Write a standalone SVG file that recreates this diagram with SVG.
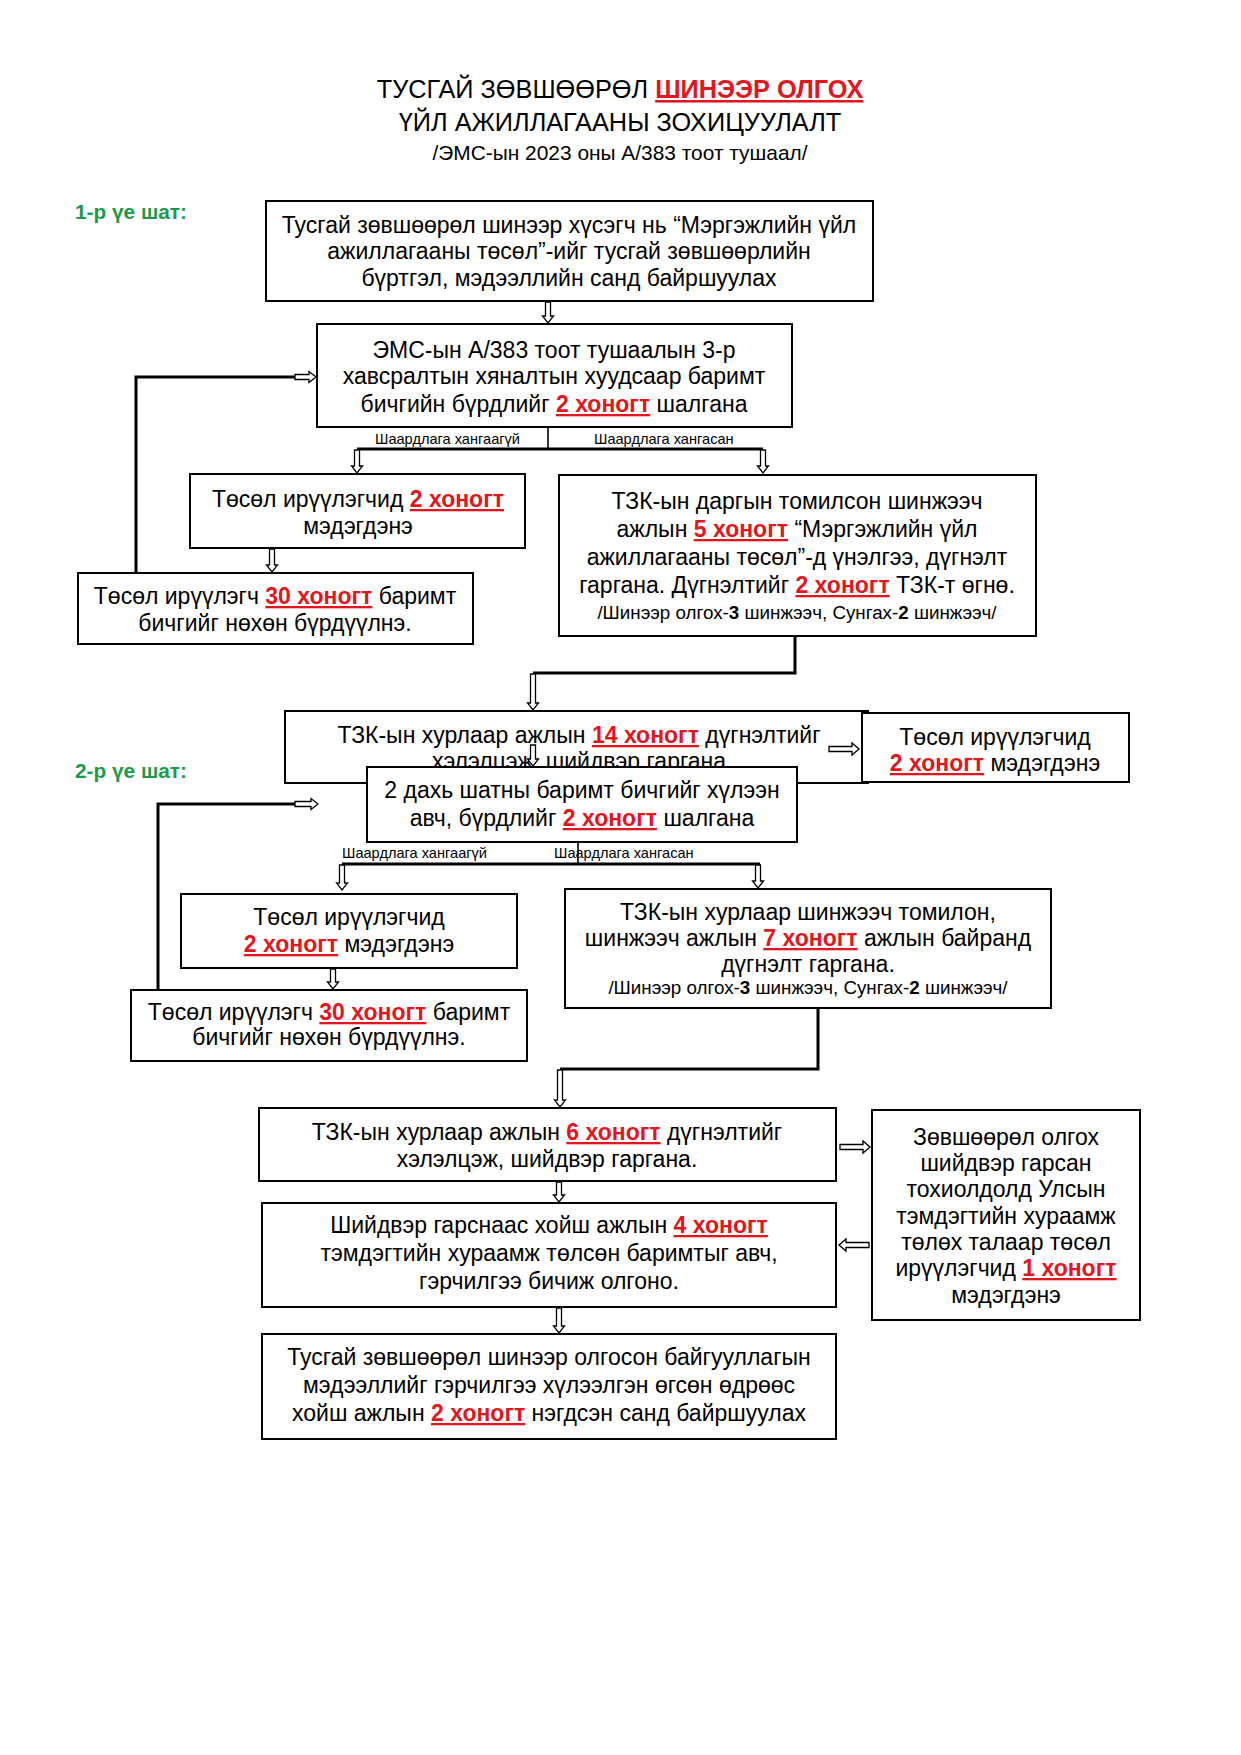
<svg xmlns="http://www.w3.org/2000/svg" width="1241" height="1755" viewBox="0 0 1241 1755">
<style>
text{font-family:"Liberation Sans",Arial,sans-serif;fill:#000}
.t{font-size:23px;text-anchor:middle}
.s{font-size:18.8px;text-anchor:middle}
.lab{font-size:14.6px}
.r{fill:#e2161c;font-weight:bold;text-decoration:underline}
.b{font-weight:bold}
.g{fill:#1c9a4c;font-size:20.8px;font-weight:bold}
.box{fill:#fff;stroke:#000;stroke-width:2}
.ln{fill:none;stroke:#000;stroke-width:3}
.ln2{fill:none;stroke:#000;stroke-width:1.6}
.ar{fill:#fff;stroke:#000;stroke-width:1.3}
</style>
<rect width="1241" height="1755" fill="#fff"/>
<g id="title">
<text x="620" y="98" style="font-size:25.3px;text-anchor:middle">ТУСГАЙ ЗӨВШӨӨРӨЛ <tspan class="r">ШИНЭЭР ОЛГОХ</tspan></text>
<text x="620" y="131" style="font-size:25.3px;text-anchor:middle">ҮЙЛ АЖИЛЛАГААНЫ ЗОХИЦУУЛАЛТ</text>
<text x="620" y="160" style="font-size:20.9px;text-anchor:middle">/ЭМС-ын 2023 оны А/383 тоот тушаал/</text>
</g>
<g id="stage1"><text x="75" y="219" class="g">1-р үе шат:</text></g>
<g id="stage2"><text x="75" y="778" class="g">2-р үе шат:</text></g>

<g id="connectors">
<path class="ln" d="M136 573V377H296"/>
<path class="ln" d="M158 990V804H296"/>
<path class="ln2" d="M548 427V449"/>
<path class="ln" d="M357 449H763"/>
<path class="ln2" d="M578 842V864"/>
<path class="ln" d="M342 864H760"/>
<path class="ln" d="M795 636V673H533"/>
<path class="ln" d="M818 1008V1069H560"/>
</g>

<g id="n1"><rect class="box" x="266" y="201" width="607" height="100"/>
<text class="t" x="569" y="233">Тусгай зөвшөөрөл шинээр хүсэгч нь “Мэргэжлийн үйл</text>
<text class="t" x="569" y="259">ажиллагааны төсөл”-ийг тусгай зөвшөөрлийн</text>
<text class="t" x="569" y="286">бүртгэл, мэдээллийн санд байршуулах</text></g>

<g id="n2"><rect class="box" x="317" y="324" width="475" height="103"/>
<text class="t" x="554" y="358">ЭМС-ын А/383 тоот тушаалын 3-р</text>
<text class="t" x="554" y="384">хавсралтын хяналтын хуудсаар баримт</text>
<text class="t" x="554" y="412">бичгийн бүрдлийг <tspan class="r">2 хоногт</tspan> шалгана</text></g>

<g id="lbl1"><text class="lab" x="375" y="444">Шаардлага хангаагүй</text><text class="lab" x="594" y="444">Шаардлага хангасан</text></g>

<g id="n3"><rect class="box" x="190" y="474" width="335" height="74"/>
<text class="t" x="358" y="507">Төсөл ирүүлэгчид <tspan class="r">2 хоногт</tspan></text>
<text class="t" x="358" y="534">мэдэгдэнэ</text></g>

<g id="n4"><rect class="box" x="78" y="573" width="395" height="71"/>
<text class="t" x="275" y="604">Төсөл ирүүлэгч <tspan class="r">30 хоногт</tspan> баримт</text>
<text class="t" x="275" y="631">бичгийг нөхөн бүрдүүлнэ.</text></g>

<g id="n5"><rect class="box" x="559" y="475" width="477" height="161"/>
<text class="t" x="797" y="509">ТЗК-ын даргын томилсон шинжээч</text>
<text class="t" x="797" y="537">ажлын <tspan class="r">5 хоногт</tspan> “Мэргэжлийн үйл</text>
<text class="t" x="797" y="565">ажиллагааны төсөл”-д үнэлгээ, дүгнэлт</text>
<text class="t" x="797" y="593">гаргана. Дүгнэлтийг <tspan class="r">2 хоногт</tspan> ТЗК-т өгнө.</text>
<text class="s" x="797" y="619">/Шинээр олгох-<tspan class="b">3</tspan> шинжээч, Сунгах-<tspan class="b">2</tspan> шинжээч/</text></g>

<g id="n6"><rect class="box" x="285" y="711" width="583" height="72"/>
<text class="t" x="579" y="743">ТЗК-ын хурлаар ажлын <tspan class="r">14 хоногт</tspan> дүгнэлтийг</text>
<text class="t" x="579" y="769">хэлэлцэж, шийдвэр гаргана</text></g>

<g id="n8"><rect class="box" x="862" y="713" width="267" height="69"/>
<text class="t" x="995" y="745">Төсөл ирүүлэгчид</text>
<text class="t" x="995" y="771"><tspan class="r">2 хоногт</tspan> мэдэгдэнэ</text></g>

<g id="n7"><rect class="box" x="367" y="767" width="430" height="75"/>
<text class="t" x="582" y="798">2 дахь шатны баримт бичгийг хүлээн</text>
<text class="t" x="582" y="826">авч, бүрдлийг <tspan class="r">2 хоногт</tspan> шалгана</text></g>

<g id="lbl2"><text class="lab" x="342" y="858">Шаардлага хангаагүй</text><text class="lab" x="554" y="858">Шаардлага хангасан</text></g>

<g id="n9"><rect class="box" x="181" y="894" width="336" height="74"/>
<text class="t" x="349" y="925">Төсөл ирүүлэгчид</text>
<text class="t" x="349" y="952"><tspan class="r">2 хоногт</tspan> мэдэгдэнэ</text></g>

<g id="n10"><rect class="box" x="131" y="990" width="396" height="71"/>
<text class="t" x="329" y="1020">Төсөл ирүүлэгч <tspan class="r">30 хоногт</tspan> баримт</text>
<text class="t" x="329" y="1045">бичгийг нөхөн бүрдүүлнэ.</text></g>

<g id="n11"><rect class="box" x="565" y="889" width="486" height="119"/>
<text class="t" x="808" y="920">ТЗК-ын хурлаар шинжээч томилон,</text>
<text class="t" x="808" y="946">шинжээч ажлын <tspan class="r">7 хоногт</tspan> ажлын байранд</text>
<text class="t" x="808" y="972">дүгнэлт гаргана.</text>
<text class="s" x="808" y="994">/Шинээр олгох-<tspan class="b">3</tspan> шинжээч, Сунгах-<tspan class="b">2</tspan> шинжээч/</text></g>

<g id="n12"><rect class="box" x="259" y="1108" width="577" height="73"/>
<text class="t" x="547" y="1140">ТЗК-ын хурлаар ажлын <tspan class="r">6 хоногт</tspan> дүгнэлтийг</text>
<text class="t" x="547" y="1167">хэлэлцэж, шийдвэр гаргана.</text></g>

<g id="n13"><rect class="box" x="262" y="1203" width="574" height="104"/>
<text class="t" x="549" y="1233">Шийдвэр гарснаас хойш ажлын <tspan class="r">4 хоногт</tspan></text>
<text class="t" x="549" y="1261">тэмдэгтийн хураамж төлсөн баримтыг авч,</text>
<text class="t" x="549" y="1289">гэрчилгээ бичиж олгоно.</text></g>

<g id="n14"><rect class="box" x="262" y="1334" width="574" height="105"/>
<text class="t" x="549" y="1365">Тусгай зөвшөөрөл шинээр олгосон байгууллагын</text>
<text class="t" x="549" y="1393">мэдээллийг гэрчилгээ хүлээлгэн өгсөн өдрөөс</text>
<text class="t" x="549" y="1421">хойш ажлын <tspan class="r">2 хоногт</tspan> нэгдсэн санд байршуулах</text></g>

<g id="n15"><rect class="box" x="872" y="1110" width="268" height="210"/>
<text class="t" x="1006" y="1145">Зөвшөөрөл олгох</text>
<text class="t" x="1006" y="1171">шийдвэр гарсан</text>
<text class="t" x="1006" y="1197">тохиолдолд Улсын</text>
<text class="t" x="1006" y="1224">тэмдэгтийн хураамж</text>
<text class="t" x="1006" y="1250">төлөх талаар төсөл</text>
<text class="t" x="1006" y="1276">ирүүлэгчид <tspan class="r">1 хоногт</tspan></text>
<text class="t" x="1006" y="1303">мэдэгдэнэ</text></g>

<g id="arrows">
<path class="ar" d="M545.5 302V316H542.5L548 323L553.5 316H550.5V302Z"/>
<path class="ar" d="M354.5 450V466H351.5L357 473L362.5 466H359.5V450Z"/>
<path class="ar" d="M760.5 450V466H757.5L763 473L768.5 466H765.5V450Z"/>
<path class="ar" d="M269.5 549V565H266.5L272 572L277.5 565H274.5V549Z"/>
<path class="ar" d="M530.5 674V703H527.5L533 710L538.5 703H535.5V674Z"/>
<path class="ar" d="M530.5 745V759H527.5L533 766L538.5 759H535.5V745Z"/>
<path class="ar" d="M339.5 865V883H336.5L342 890L347.5 883H344.5V865Z"/>
<path class="ar" d="M755.5 865V881H752.5L758 888L763.5 881H760.5V865Z"/>
<path class="ar" d="M330.5 969V982H327.5L333 989L338.5 982H335.5V969Z"/>
<path class="ar" d="M557.5 1070V1100H554.5L560 1107L565.5 1100H562.5V1070Z"/>
<path class="ar" d="M556.5 1182V1195H553.5L559 1202L564.5 1195H561.5V1182Z"/>
<path class="ar" d="M556.5 1308V1326H553.5L559 1333L564.5 1326H561.5V1308Z"/>
<path class="ar" d="M295 374.5H309V371.5L316 377L309 382.5V379.5H295Z"/>
<path class="ar" d="M295 801.5H311V798.5L318 804L311 809.5V806.5H295Z"/>
<path class="ar" d="M829 746.5H852V743L859 749L852 755V751.5H829Z"/>
<path class="ar" d="M840 1144.5H863V1141L870 1147L863 1153V1149.5H840Z"/>
<path class="ar" d="M869 1242.5H846V1239L839 1245L846 1251V1247.5H869Z"/>
</g>
</svg>
